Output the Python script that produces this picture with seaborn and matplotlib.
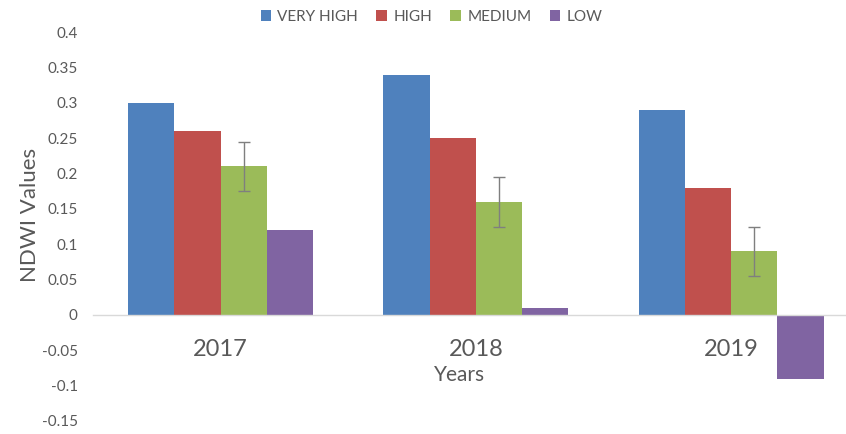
import numpy as np
import pandas as pd
import matplotlib
matplotlib.use('Agg')
import matplotlib.pyplot as plt
import seaborn as sns

# 数据
years = ['2017', '2018', '2019']
levels = ['VERY HIGH', 'HIGH', 'MEDIUM', 'LOW']
very_high = [0.30, 0.34, 0.29]
high = [0.26, 0.25, 0.18]
medium = [0.21, 0.16, 0.09]
low = [0.12, 0.01, -0.09]
medium_err = [0.035, 0.035, 0.035]
colors = ['#4F81BD', '#C0504D', '#9BBB59', '#8064A2']

df = pd.DataFrame({
    'year': years * 4,
    'level': np.repeat(levels, 3),
    'ndwi': very_high + high + medium + low,
})

sns.set_style('white')
plt.rcParams['font.family'] = ['Lato', 'DejaVu Sans']

fig = plt.figure(figsize=(8.46, 4.34), dpi=100)
ax = fig.add_axes([0.110, 0.030, 0.890, 0.896])

sns.barplot(data=df, x='year', y='ndwi', hue='level', hue_order=levels,
            order=years, palette=colors, saturation=1, width=0.725,
            linewidth=0, errorbar=None, ax=ax)

# 误差线 (只有 MEDIUM)
med_bars = ax.containers[2]
xs = [p.get_x() + p.get_width() / 2 for p in med_bars]
ax.errorbar(xs, medium, yerr=medium_err, fmt='none', ecolor='#7F7F7F',
            elinewidth=1, capsize=4, capthick=1)

ax.set_xlim(-0.5, 2.45)
ax.set_ylim(-0.15, 0.4)
ax.set_yticks(np.arange(-0.15, 0.401, 0.05))
ax.set_yticklabels(['-0.15', '-0.1', '-0.05', '0', '0.05', '0.1', '0.15',
                    '0.2', '0.25', '0.3', '0.35', '0.4'])

for s in ['top', 'right', 'left']:
    ax.spines[s].set_visible(False)
ax.spines['bottom'].set_position(('data', 0))
ax.spines['bottom'].set_color('#D9D9D9')
ax.spines['bottom'].set_linewidth(1)

ax.tick_params(axis='y', length=0, pad=11, labelsize=11, labelcolor='#595959')
ax.tick_params(axis='x', length=0, pad=17, labelsize=17, labelcolor='#595959')

ax.set_xlabel('Years', fontsize=15, color='#595959')
ax.xaxis.set_label_coords(0.487, 0.118)
ax.xaxis.label.set_va('center')
ax.set_ylabel('NDWI Values', fontsize=16, color='#595959')
ax.yaxis.set_label_coords(-0.084, 0.53)
ax.yaxis.label.set_va('center')

ax.legend(loc='center', bbox_to_anchor=(0.51, 0.961), bbox_transform=fig.transFigure,
          ncol=4, frameon=False, fontsize=11, handlelength=0.7, handleheight=0.7,
          handletextpad=0.4, columnspacing=1.2, labelcolor='#595959')

plt.savefig('out.png', dpi=100)
